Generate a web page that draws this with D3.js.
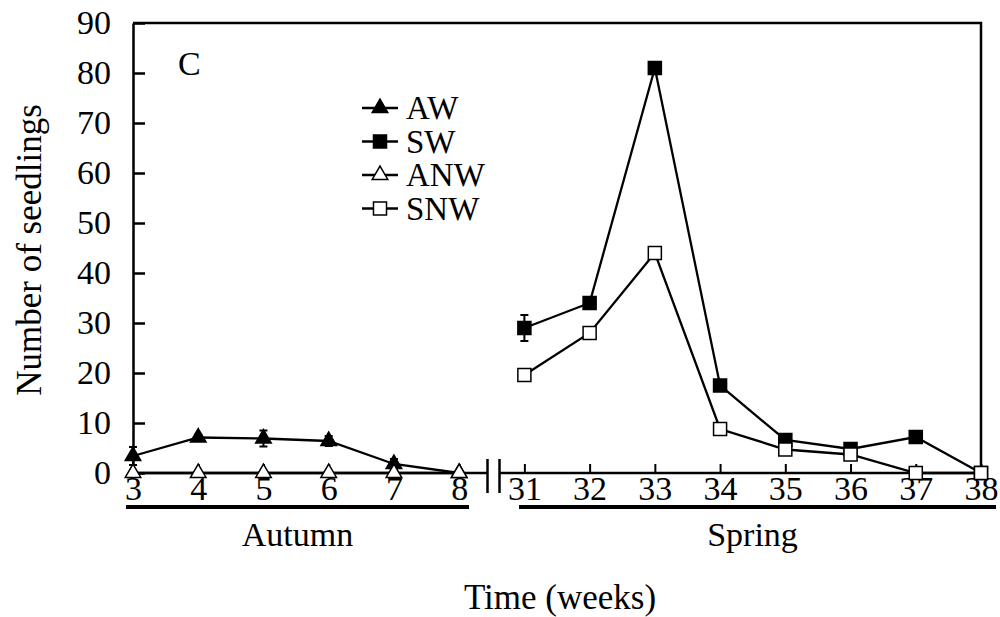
<!DOCTYPE html>
<html>
<head>
<meta charset="utf-8">
<script src="https://cdn.jsdelivr.net/npm/d3@7"></script>
<style>
  body { margin: 0; background: #fff; }
  svg text { font-family: "Liberation Serif", "Times New Roman", serif; fill: #000; }
</style>
</head>
<body>
<svg class="chart" width="1000" height="617"></svg>
<script>
// week categories (autumn block, then spring block after the axis break)
var weeks = ['3', '4', '5', '6', '7', '8', '31', '32', '33', '34', '35', '36', '37', '38'];
var autumnWeeks = ['3', '4', '5', '6', '7', '8'];
var springWeeks = ['31', '32', '33', '34', '35', '36', '37', '38'];

var awValues  = [3.4, 7.1, 6.9, 6.4, 1.8, 0];
var awErrors  = [1.8, 0.6, 1.6, 1.0, 1.0, 0];
var anwValues = [0, 0, 0, 0, 0, 0];
var anwErrors = [0, 0, 0, 0, 0, 0];

var swValues  = [29, 34, 81, 17.5, 6.6, 4.8, 7.2, 0];
var swErrors  = [2.6, 1.0, 0.8, 1.0, 0.8, 0.6, 0.8, 0];
var snwValues = [19.6, 28, 44, 8.8, 4.7, 3.7, 0, 0];
var snwErrors = [0.6, 0.6, 0.6, 0.6, 0.6, 0.5, 0, 0];

var yTicks = [0, 10, 20, 30, 40, 50, 60, 70, 80, 90];
var seasons = ['Autumn', 'Spring'];

var svg = d3.select('svg.chart');

// plot frame
var plot = {l: 133, r: 981, t: 23, b: 473};
var fontSize = 34;

var xScale = d3.scalePoint().domain(weeks).range([plot.l, plot.r]);
var yScale = d3.scaleLinear().domain([0, 90]).range([plot.b, plot.t]);

// series table built from the arrays above
function makeSeries(name, cats, vals, errs, symbol, fill) {
  return {
    name: name, symbol: symbol, fill: fill,
    points: cats.map(function(c, i) { return {week: c, v: vals[i], e: errs[i]}; })
  };
}
var series = [
  makeSeries('AW', autumnWeeks, awValues, awErrors, d3.symbolTriangle, '#000'),
  makeSeries('ANW', autumnWeeks, anwValues, anwErrors, d3.symbolTriangle, '#fff'),
  makeSeries('SW', springWeeks, swValues, swErrors, d3.symbolSquare, '#000'),
  makeSeries('SNW', springWeeks, snwValues, snwErrors, d3.symbolSquare, '#fff')
];
var legendOrder = ['AW', 'SW', 'ANW', 'SNW'];

function symbolSize(s) { return s === d3.symbolTriangle ? 105 : 170; }

/**********************
 Axes
**********************/
// y axis (ticks pointing into the plot)
var yAxisG = svg.append('g')
  .attr('transform', 'translate(' + plot.l + ',0)')
  .call(d3.axisLeft(yScale).tickValues(yTicks).tickSizeInner(-12).tickSizeOuter(0).tickPadding(22));
yAxisG.select('.domain').attr('stroke-width', 2.5);
yAxisG.selectAll('.tick line').attr('stroke-width', 2.5);
yAxisG.selectAll('text').style('font-size', fontSize + 'px').attr('fill', '#000');

// x axis with a break between week 8 and week 31
var breakL = 487.5, breakR = 499.5;
var xAxisG = svg.append('g')
  .attr('transform', 'translate(0,' + plot.b + ')')
  .call(d3.axisBottom(xScale).tickSizeInner(-9).tickSizeOuter(0).tickPadding(3));
xAxisG.select('.domain').remove();
xAxisG.selectAll('.tick line').attr('stroke-width', 2);
xAxisG.selectAll('text').style('font-size', fontSize + 'px').attr('fill', '#000');

xAxisG.append('line').attr('x1', plot.l).attr('x2', breakL).attr('y1', 0).attr('y2', 0)
  .attr('stroke', '#000').attr('stroke-width', 2.5);
xAxisG.append('line').attr('x1', breakR).attr('x2', plot.r).attr('y1', 0).attr('y2', 0)
  .attr('stroke', '#000').attr('stroke-width', 2.5);
[breakL, breakR].forEach(function(bx) {
  xAxisG.append('line').attr('x1', bx).attr('x2', bx).attr('y1', -14).attr('y2', 20)
    .attr('stroke', '#000').attr('stroke-width', 2.5);
});

// top and right border
svg.append('path')
  .attr('d', 'M' + plot.l + ',' + plot.t + 'H' + plot.r + 'V' + plot.b)
  .attr('fill', 'none').attr('stroke', '#000').attr('stroke-width', 2.5);

/**********************
 Data
**********************/
var line = d3.line()
  .x(function(d) { return xScale(d.week); })
  .y(function(d) { return yScale(d.v); });

var seriesG = svg.selectAll('g.series')
  .data(series)
  .enter()
  .append('g')
  .attr('class', 'series');

seriesG.append('path')
  .attr('d', function(d) { return line(d.points); })
  .attr('fill', 'none').attr('stroke', '#000').attr('stroke-width', 2.3);

// error bars
seriesG.each(function(s) {
  var g = d3.select(this);
  s.points.filter(function(p) { return p.e > 0; }).forEach(function(p) {
    var cx = xScale(p.week);
    g.append('path')
      .attr('d', 'M' + cx + ',' + yScale(p.v - p.e) + 'V' + yScale(p.v + p.e)
        + 'M' + (cx - 4) + ',' + yScale(p.v + p.e) + 'H' + (cx + 4)
        + 'M' + (cx - 4) + ',' + yScale(p.v - p.e) + 'H' + (cx + 4))
      .attr('fill', 'none').attr('stroke', '#000').attr('stroke-width', 2);
  });
});

seriesG.selectAll('path.marker')
  .data(function(s) { return s.points.map(function(p) { return {p: p, s: s}; }); })
  .enter()
  .append('path')
  .attr('class', 'marker')
  .attr('transform', function(d) {
    return 'translate(' + xScale(d.p.week) + ',' + yScale(d.p.v) + ')';
  })
  .attr('d', function(d) { return d3.symbol().type(d.s.symbol).size(symbolSize(d.s.symbol))(); })
  .attr('fill', function(d) { return d.s.fill; })
  .attr('stroke', '#000').attr('stroke-width', 1.5);

/**********************
 Legend and labels
**********************/
svg.append('text').attr('x', 178).attr('y', 75)
  .style('font-size', fontSize + 'px').text('C');

var legendG = svg.append('g').attr('transform', 'translate(362,108)');
var legendRows = legendG.selectAll('g')
  .data(legendOrder.map(function(n) { return series.find(function(s) { return s.name === n; }); }))
  .enter()
  .append('g')
  .attr('transform', function(d, i) { return 'translate(0,' + (i * 33.5) + ')'; });
legendRows.append('line').attr('x1', 0).attr('x2', 36).attr('y1', 0).attr('y2', 0)
  .attr('stroke', '#000').attr('stroke-width', 2.3);
legendRows.append('path')
  .attr('transform', 'translate(18,0)')
  .attr('d', function(d) { return d3.symbol().type(d.symbol).size(symbolSize(d.symbol))(); })
  .attr('fill', function(d) { return d.fill; })
  .attr('stroke', '#000').attr('stroke-width', 1.5);
legendRows.append('text').attr('x', 44).attr('y', 11)
  .style('font-size', '33px').text(function(d) { return d.name; });

// season underlines
var seasonSpans = [[126, 469], [519, 996]];
var seasonG = svg.selectAll('g.season')
  .data(seasons)
  .enter()
  .append('g')
  .attr('class', 'season');
seasonG.append('line')
  .attr('x1', function(d, i) { return seasonSpans[i][0]; })
  .attr('x2', function(d, i) { return seasonSpans[i][1]; })
  .attr('y1', 507).attr('y2', 507)
  .attr('stroke', '#000').attr('stroke-width', 4);
seasonG.append('text')
  .attr('x', function(d, i) { return (seasonSpans[i][0] + seasonSpans[i][1]) / 2 + (i === 0 ? 0 : -5); })
  .attr('y', 546)
  .attr('text-anchor', 'middle')
  .style('font-size', fontSize + 'px')
  .text(function(d) { return d; });

svg.append('text')
  .attr('x', 560).attr('y', 609)
  .attr('text-anchor', 'middle')
  .style('font-size', '35px')
  .text('Time (weeks)');

svg.append('text')
  .attr('transform', 'translate(41,250) rotate(-90)')
  .attr('text-anchor', 'middle')
  .style('font-size', '35px')
  .text('Number of seedlings');
</script>
</body>
</html>
